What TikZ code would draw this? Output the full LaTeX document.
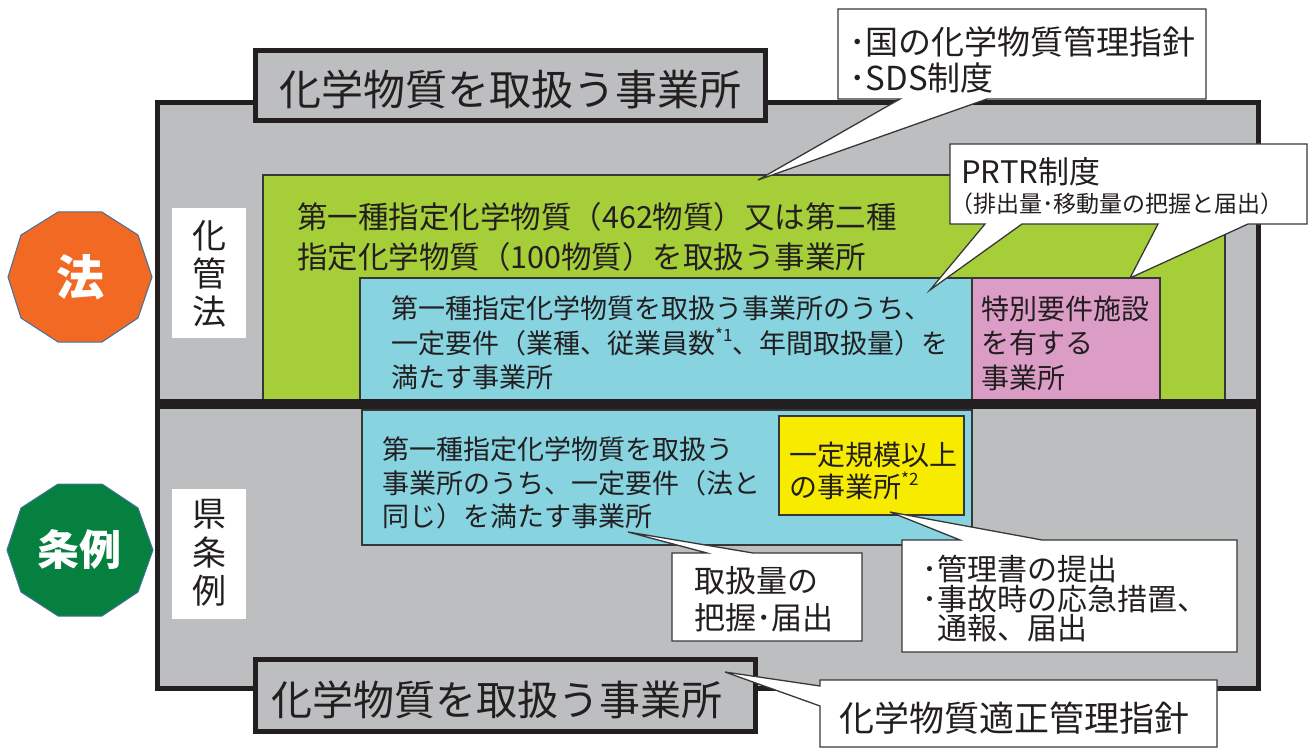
\documentclass[tikz,border=0pt]{standalone}
\usepackage{fontspec}
\setmainfont{Noto Sans CJK JP}
\newcommand\fsz[2]{\fontsize{#1}{#2}\selectfont}
\newcommand\supmark[1]{\raisebox{0.42em}{\fontsize{17}{17}\selectfont #1}}
\definecolor{gry}{RGB}{188,190,192}
\definecolor{grn}{RGB}{166,206,57}
\definecolor{blu}{RGB}{135,211,224}
\definecolor{pnk}{RGB}{219,157,198}
\definecolor{yel}{RGB}{247,236,0}
\definecolor{org}{RGB}{241,105,35}
\definecolor{dgr}{RGB}{6,128,62}
\definecolor{polyedge}{RGB}{65,113,156}
\definecolor{ink}{RGB}{35,31,32}
\definecolor{edge}{RGB}{55,55,55}
\begin{document}
\begin{tikzpicture}[x=1pt,y=-1pt,
  frame/.style={draw=ink,line width=5pt,line join=miter},
  areabox/.style={draw=edge,line width=1.2pt},
  callout/.style={fill=white,draw=edge,line width=1.3pt,line join=miter},
  txt/.style={inner sep=0pt,anchor=west,align=left,text=ink},
  vtxt/.style={inner sep=0pt,align=center,text=ink},
  badge/.style={draw=polyedge,line width=1pt},
  badgetxt/.style={inner sep=0pt,text=white,font=\bfseries}]
\useasboundingbox (0,0) rectangle (1314,754);
% outer area
\draw[frame,fill=gry] (157,103) rectangle (1258,688);
% coloured areas
\draw[areabox,fill=grn] (263,175) rectangle (1225,400);
\draw[areabox,fill=blu] (360,278) rectangle (972,400);
\draw[areabox,fill=pnk] (972,278) rectangle (1160,400);
\draw[areabox,fill=blu] (362,410) rectangle (972,545);
\draw[areabox,fill=yel] (779,416) rectangle (964,515);
% divider
\draw[ink,line width=10pt] (155,404) -- (1260,404);
% title boxes
\draw[frame,fill=gry] (255,51) rectangle (765,121);
\draw[frame,fill=gry] (255,659) rectangle (755,731);
% white label boxes
\fill[white] (172,208) rectangle (246,338);
\fill[white] (172,489) rectangle (246,619);
% badges
\draw[badge,fill=org] (58,212) -- (102,212) -- (138,235) -- (152,277) -- (138,318) -- (102,342) -- (58,342) -- (21,318) -- (8,277) -- (21,235) -- cycle;
\draw[badge,fill=dgr] (58,484) -- (102,484) -- (138,508) -- (153,550) -- (138,592) -- (102,616) -- (58,616) -- (21,592) -- (7,550) -- (21,508) -- cycle;
\node[badgetxt,font=\bfseries\fsz{48}{48}] (hou) at (80,277) {法};
\node[badgetxt,font=\bfseries\fsz{42}{42}] (jourei) at (79,550) {条例};
% texts
\node[txt,font=\fsz{42}{42}] (titletop) at (279,89) {化学物質を取扱う事業所};
\node[txt,font=\fsz{41}{41}] (titlebot) at (271,700) {化学物質を取扱う事業所};
\node[vtxt,font=\fsz{34}{38}] (kakan) at (209,274) {化\\管\\法};
\node[vtxt,font=\fsz{34}{38.5}] (ken) at (209,553) {県\\条\\例};
\node[txt,font=\fsz{30.5}{40}] (green) at (297,237) {第一種指定化学物質（462物質）又は第二種\\指定化学物質（100物質）を取扱う事業所};
\node[txt,font=\fsz{27}{34.5}] (blueup) at (391,343) {第一種指定化学物質を取扱う事業所のうち、\\一定要件（業種、従業員数\supmark{*1}、年間取扱量）を\\満たす事業所};
\node[txt,font=\fsz{28}{34.5}] (pink) at (981,343) {特別要件施設\\を有する\\事業所};
\node[txt,font=\fsz{27}{33.5}] (bluelow) at (382,483) {第一種指定化学物質を取扱う\\事業所のうち、一定要件（法と\\同じ）を満たす事業所};
\node[txt,font=\fsz{28}{32}] (yellow) at (789,471) {一定規模以上\\の事業所\supmark{*2}};
% callouts
\draw[callout] (838,9) -- (1206,9) -- (1206,99) -- (987,99) -- (758,180) -- (900,99) -- (838,99) -- cycle;
\node[txt,font=\fsz{33}{36}] (kuni) at (849,60) {･国の化学物質管理指針\\･SDS制度};
\draw[callout] (950,144) -- (1307,144) -- (1307,224) -- (1248,224) -- (1130,278) -- (1158,224) -- (1022,224) -- (930,290) -- (985,224) -- (950,224) -- cycle;
\node[txt,font=\fsz{31}{31}] (prtr) at (961,172) {PRTR制度};
\node[txt,font=\fsz{23}{23}] (prtrsub) at (950,204) {（排出量･移動量の把握と届出）};
\draw[callout] (672,553) -- (707,553) -- (628,532) -- (753,553) -- (862,553) -- (862,641) -- (672,641) -- cycle;
\node[txt,font=\fsz{31}{37}] (toriatsukai) at (694,599) {取扱量の\\把握･届出};
\draw[callout] (902,540) -- (960,540) -- (890,512) -- (1042,540) -- (1237,540) -- (1237,652) -- (902,652) -- cycle;
\node[txt,font=\fsz{30}{29.5}] (kanri) at (922,599) {･管理書の提出\\･事故時の応急措置、\\\hspace*{0.5em}通報、届出};
\draw[callout] (820,680) -- (1217,680) -- (1217,747) -- (820,747) -- (820,706) -- (725,672) -- (820,686) -- cycle;
\node[txt,font=\fsz{35}{35}] (tekisei) at (839,718) {化学物質適正管理指針};
\end{tikzpicture}
\end{document}
